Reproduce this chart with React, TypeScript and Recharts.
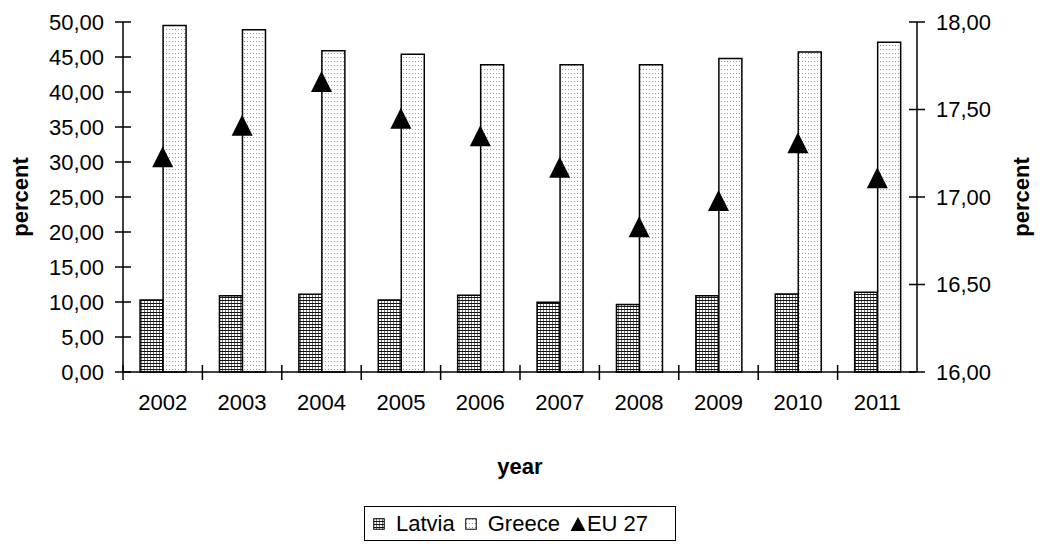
import React from 'react';
import { ComposedChart, Bar, Line, XAxis, YAxis, Legend, Label } from 'recharts';

const years = ['2002', '2003', '2004', '2005', '2006', '2007', '2008', '2009', '2010', '2011'];
const latvia = [10.3, 10.9, 11.1, 10.3, 10.95, 9.95, 9.65, 10.9, 11.15, 11.4];
const greece = [49.5, 48.9, 45.9, 45.4, 43.9, 43.9, 43.9, 44.8, 45.7, 47.1];
const eu27 = [17.23, 17.41, 17.66, 17.45, 17.35, 17.17, 16.83, 16.98, 17.31, 17.11];
const leftTicks = [0, 5, 10, 15, 20, 25, 30, 35, 40, 45, 50];
const rightTicks = [16, 16.5, 17, 17.5, 18];

const data = years.map((y, i) => ({ year: y, latvia: latvia[i], greece: greece[i], eu27: eu27[i] }));

const FONT = '"Liberation Sans", Arial, sans-serif';
const fmt = (v: number) => v.toFixed(2).replace('.', ',');

const LeftTick = (props: any) => {
  const { x, y, payload } = props;
  return (
    <g>
      <line x1={x - 8} x2={x + 8} y1={y} y2={y} stroke="#000" strokeWidth={1.5} />
      <text x={x - 19} y={y} dy="0.36em" textAnchor="end" fontSize={22} fontFamily={FONT} fill="#000">
        {fmt(payload.value)}
      </text>
    </g>
  );
};

const RightTick = (props: any) => {
  const { x, y, payload } = props;
  return (
    <g>
      <line x1={x - 8} x2={x + 8} y1={y} y2={y} stroke="#000" strokeWidth={1.5} />
      <text x={x + 19} y={y} dy="0.36em" textAnchor="start" fontSize={22} fontFamily={FONT} fill="#000">
        {fmt(payload.value)}
      </text>
    </g>
  );
};

const XTick = (props: any) => {
  const { x, y, payload } = props;
  const half = payload && payload.offset ? payload.offset : 39.7;
  return (
    <g>
      <line x1={x - half} x2={x - half} y1={y - 7} y2={y + 8} stroke="#000" strokeWidth={1.5} />
      <text x={x} y={y + 38} dy="0" textAnchor="middle" fontSize={22} fontFamily={FONT} fill="#000">
        {payload.value}
      </text>
    </g>
  );
};

const Triangle = (props: any) => {
  const { cx, cy } = props;
  if (cx == null || cy == null) return null;
  const s = 10.5;
  return <path d={`M${cx},${cy - s} L${cx + s},${cy + s} L${cx - s},${cy + s} Z`} fill="#000" />;
};

const LegendBox = () => (
  <div
    style={{
      border: '1.5px solid #000',
      boxSizing: 'border-box',
      width: 312,
      height: 35,
      display: 'flex',
      alignItems: 'center',
      fontFamily: FONT,
      fontSize: 22,
      color: '#000',
      background: '#fff',
      paddingLeft: 8,
    }}
  >
    <svg width={12} height={12} style={{ marginRight: 11 }}>
      <rect x={0.75} y={0.75} width={10.5} height={10.5} fill="url(#latviaPat)" stroke="#000" strokeWidth={1} />
    </svg>
    <span style={{ marginRight: 10 }}>Latvia</span>
    <svg width={12} height={12} style={{ marginRight: 11 }}>
      <rect x={0.75} y={0.75} width={10.5} height={10.5} fill="url(#greecePat)" stroke="#000" strokeWidth={1} />
    </svg>
    <span style={{ marginRight: 10 }}>Greece</span>
    <svg width={16} height={16} style={{ marginRight: 1 }}>
      <path d="M8,1 L15.5,15 L0.5,15 Z" fill="#000" />
    </svg>
    <span>EU 27</span>
  </div>
);

export default function App() {
  return (
    <div style={{ position: 'absolute', left: 0, top: 0, width: 1041, height: 554, background: '#fff' }}>
      <ComposedChart
        width={1041}
        height={554}
        data={data}
        margin={{ top: 22, right: 0, bottom: 142, left: 0 }}
        barCategoryGap="21.5%"
        barGap={0}
      >
        <defs>
          <pattern id="latviaPat" patternUnits="userSpaceOnUse" width={3} height={3}>
            <rect x={0} y={0} width={3} height={3} fill="#fff" />
            <rect x={0} y={0} width={1} height={3} fill="#777" />
            <rect x={0} y={0} width={3} height={1} fill="#111" />
          </pattern>
          <pattern id="greecePat" patternUnits="userSpaceOnUse" width={3} height={4}>
            <rect x={0} y={0} width={3} height={4} fill="#fff" />
            <rect x={1} y={1} width={1} height={1} fill="#9a9a9a" />
          </pattern>
        </defs>
        <XAxis
          dataKey="year"
          height={40}
          tickLine={false}
          tickSize={0}
          tickMargin={0}
          tick={<XTick />}
          axisLine={{ stroke: '#000', strokeWidth: 1.5 }}
          interval={0}
        >
          <Label
            content={() => (
              <text x={520} y={474} textAnchor="middle" fontSize={22} fontWeight="bold" fontFamily={FONT} fill="#000">
                year
              </text>
            )}
          />
        </XAxis>
        <YAxis
          yAxisId="left"
          orientation="left"
          width={123}
          domain={[0, 50]}
          ticks={leftTicks}
          tickLine={false}
          tickSize={0}
          tickMargin={0}
          tick={<LeftTick />}
          axisLine={{ stroke: '#000', strokeWidth: 1.5 }}
          interval={0}
        >
          <Label
            content={() => (
              <text
                x={28}
                y={197}
                transform="rotate(-90 28 197)"
                textAnchor="middle"
                fontSize={22}
                fontWeight="bold"
                fontFamily={FONT}
                fill="#000"
              >
                percent
              </text>
            )}
          />
        </YAxis>
        <YAxis
          yAxisId="right"
          orientation="right"
          width={124}
          domain={[16, 18]}
          ticks={rightTicks}
          tickLine={false}
          tickSize={0}
          tickMargin={0}
          tick={<RightTick />}
          axisLine={{ stroke: '#000', strokeWidth: 1.5 }}
          interval={0}
        >
          <Label
            content={() => (
              <text
                x={1029}
                y={197}
                transform="rotate(-90 1029 197)"
                textAnchor="middle"
                fontSize={22}
                fontWeight="bold"
                fontFamily={FONT}
                fill="#000"
              >
                percent
              </text>
            )}
          />
        </YAxis>
        <Bar
          yAxisId="left"
          dataKey="latvia"
          name="Latvia"
          fill="url(#latviaPat)"
          stroke="#000"
          strokeWidth={1.5}
          isAnimationActive={false}
        />
        <Bar
          yAxisId="left"
          dataKey="greece"
          name="Greece"
          fill="url(#greecePat)"
          stroke="#000"
          strokeWidth={1.5}
          isAnimationActive={false}
        />
        <Line
          yAxisId="right"
          dataKey="eu27"
          name="EU 27"
          stroke="none"
          dot={<Triangle />}
          activeDot={false}
          isAnimationActive={false}
        />
        <Legend
          layout="horizontal"
          verticalAlign="middle"
          align="center"
          content={() => <LegendBox />}
          wrapperStyle={{ position: 'absolute', left: 364, top: 506, width: 312, height: 35, bottom: 'auto', right: 'auto', margin: 0 }}
        />
      </ComposedChart>
    </div>
  );
}
